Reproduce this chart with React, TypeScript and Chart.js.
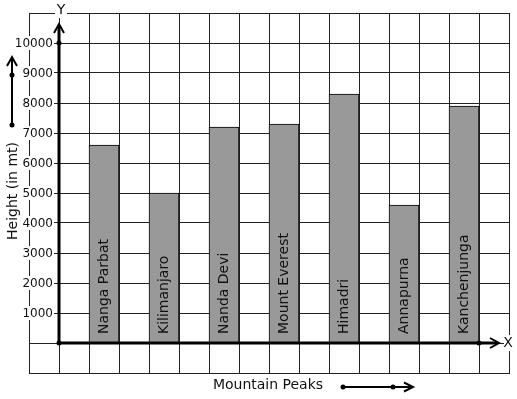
import React, { useEffect, useRef } from 'react';
import { Chart, registerables } from 'chart.js';

Chart.register(...registerables);

const categories = ['Nanga Parbat', 'Kilimanjaro', 'Nanda Devi', 'Mount Everest', 'Himadri', 'Annapurna', 'Kanchenjunga'];
const heights = [6600, 5000, 7200, 7300, 8300, 4600, 7900];
const yTickValues = [1000, 2000, 3000, 4000, 5000, 6000, 7000, 8000, 9000, 10000];
const yTickLabels = yTickValues.map((v) => String(v));
const xAxisTitle = 'Mountain Peaks';
const yAxisTitle = 'Height (in mt)';

const FONT = '"DejaVu Sans", "Liberation Sans", sans-serif';

function chevronUp(ctx: CanvasRenderingContext2D, x: number, y: number, w: number, h: number) {
  ctx.beginPath();
  ctx.moveTo(x - w, y + h);
  ctx.lineTo(x, y);
  ctx.lineTo(x + w, y + h);
  ctx.stroke();
}
function chevronRight(ctx: CanvasRenderingContext2D, x: number, y: number, w: number, h: number) {
  ctx.beginPath();
  ctx.moveTo(x - h, y - w);
  ctx.lineTo(x, y);
  ctx.lineTo(x - h, y + w);
  ctx.stroke();
}
function dot(ctx: CanvasRenderingContext2D, x: number, y: number, r: number) {
  ctx.beginPath();
  ctx.arc(x, y, r, 0, Math.PI * 2);
  ctx.fill();
}

const overlay = {
  id: 'overlay',
  afterDatasetsDraw(chart: any) {
    const ctx: CanvasRenderingContext2D = chart.ctx;
    const xs = chart.scales.x;
    const ys = chart.scales.y;
    const area = chart.chartArea;
    const ox = xs.getPixelForValue(0);
    const oy = ys.getPixelForValue(0);
    ctx.save();

    // labels inside bars
    const meta = chart.getDatasetMeta(0);
    ctx.fillStyle = '#111';
    ctx.font = '14px ' + FONT;
    ctx.textAlign = 'left';
    ctx.textBaseline = 'middle';
    meta.data.forEach((bar: any, i: number) => {
      ctx.save();
      ctx.translate(bar.x, oy - 9);
      ctx.rotate(-Math.PI / 2);
      ctx.fillText(categories[i], 0, 0);
      ctx.restore();
    });

    // y tick labels with white background
    ctx.font = '12px ' + FONT;
    ctx.textAlign = 'right';
    yTickValues.forEach((v, i) => {
      const y = ys.getPixelForValue(v);
      const label = yTickLabels[i];
      const w = ctx.measureText(label).width;
      ctx.fillStyle = '#fff';
      ctx.fillRect(ox - 6 - w - 1, y - 7, w + 2, 14);
      ctx.fillStyle = '#111';
      ctx.fillText(label, ox - 6, y + 0.5);
    });

    // axes
    ctx.strokeStyle = '#000';
    ctx.fillStyle = '#000';
    ctx.lineWidth = 3;
    const xTip = area.right - 10;
    const yTip = area.top + 11;
    ctx.beginPath();
    ctx.moveTo(ox, oy);
    ctx.lineTo(xTip - 2, oy);
    ctx.stroke();
    ctx.beginPath();
    ctx.moveTo(ox, oy);
    ctx.lineTo(ox, yTip + 2);
    ctx.stroke();
    ctx.lineWidth = 2;
    chevronUp(ctx, ox, yTip, 5, 9);
    chevronRight(ctx, xTip, oy, 5, 9);
    dot(ctx, ox, oy, 2.5);
    dot(ctx, ox, ys.getPixelForValue(10000), 2.5);
    const lastBar = meta.data[meta.data.length - 1];
    dot(ctx, lastBar.x + lastBar.width / 2, oy, 2.5);

    // Y and X letters
    ctx.font = '14px ' + FONT;
    ctx.textAlign = 'center';
    ctx.textBaseline = 'middle';
    ctx.fillStyle = '#fff';
    ctx.fillRect(ox - 4, area.top - 10, 12, 15);
    ctx.fillRect(area.right - 5, oy - 8, 10, 16);
    ctx.fillStyle = '#111';
    ctx.fillText('Y', ox + 2, area.top - 3);
    ctx.fillText('X', area.right - 1, oy + 0.5);

    // y axis title
    const midY = (area.top + area.bottom) / 2 - 2;
    ctx.save();
    ctx.translate(13, midY);
    ctx.rotate(-Math.PI / 2);
    ctx.fillText(yAxisTitle, 0, 0);
    ctx.restore();

    // x axis title
    const midX = (area.left + area.right) / 2 - 1;
    ctx.fillText(xAxisTitle, midX, area.bottom + 12.5);

    // decorative arrows
    ctx.fillStyle = '#000';
    ctx.lineWidth = 2;
    const ax = 12;
    ctx.beginPath();
    ctx.moveTo(ax, 125);
    ctx.lineTo(ax, 58);
    ctx.stroke();
    chevronUp(ctx, ax, 57, 5, 9);
    dot(ctx, ax, 125, 2.5);
    dot(ctx, ax, 75, 2.5);

    const by = area.bottom + 14;
    ctx.beginPath();
    ctx.moveTo(343, by);
    ctx.lineTo(411, by);
    ctx.stroke();
    chevronRight(ctx, 413, by, 4.5, 9);
    dot(ctx, 343, by, 2.5);
    dot(ctx, 393, by, 2.5);

    ctx.restore();
  },
};

export default function App() {
  const ref = useRef<HTMLCanvasElement>(null);
  useEffect(() => {
    document.body.style.margin = '0';
    const canvas = ref.current!;
    const chart = new Chart(canvas, {
      type: 'bar',
      data: {
        datasets: [
          {
            data: heights.map((h, i) => ({ x: 2 * i + 1.5, y: h })),
            backgroundColor: '#999999',
            borderColor: '#000',
            borderWidth: 1,
            categoryPercentage: 1,
            barPercentage: 1,
          },
        ],
      },
      options: {
        responsive: false,
        animation: false,
        events: [],
        layout: { padding: { left: 29, top: 13, right: 8, bottom: 26 } },
        plugins: { legend: { display: false }, tooltip: { enabled: false } },
        scales: {
          x: {
            type: 'linear',
            offset: false,
            min: -1,
            max: 15,
            ticks: { stepSize: 1, display: false },
            grid: { color: '#222', lineWidth: 1, drawTicks: false, offset: false },
            border: { display: true, color: '#222' },
          },
          y: {
            type: 'linear',
            min: -1000,
            max: 11000,
            ticks: { stepSize: 1000, display: false },
            grid: { color: '#222', lineWidth: 1, drawTicks: false },
            border: { display: true, color: '#222' },
          },
        },
      },
      plugins: [overlay],
    } as any);
    return () => chart.destroy();
  }, []);
  return <canvas ref={ref} width={517} height={399} style={{ display: 'block' }} />;
}
